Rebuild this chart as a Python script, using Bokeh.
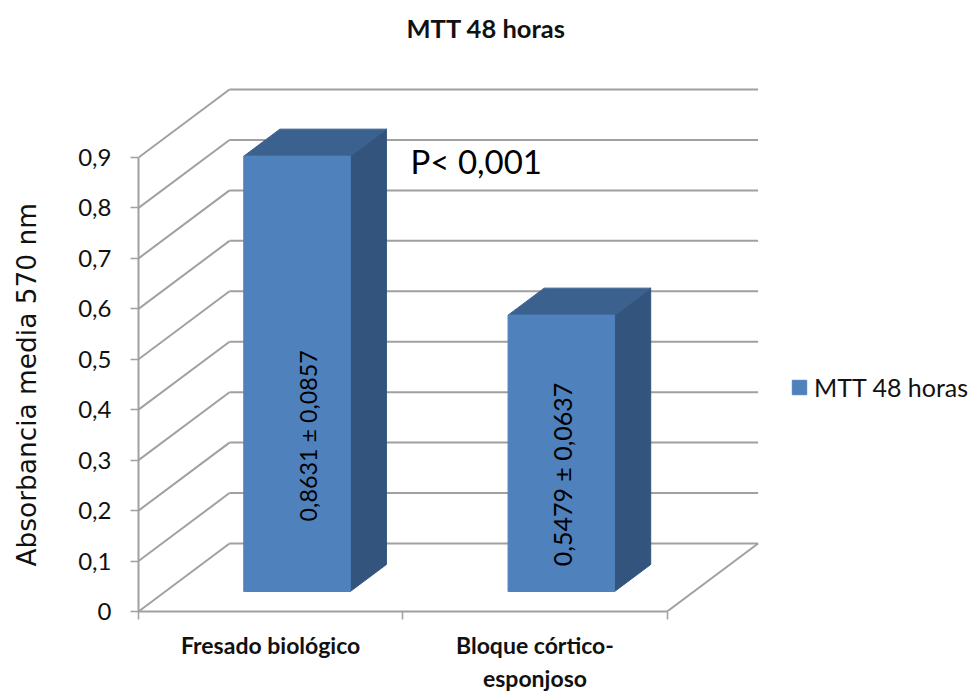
from bokeh.plotting import figure
from bokeh.models import (Range1d, FixedTicker, Legend, LegendItem, Title, Label, LinearAxis)
from bokeh.embed import file_html
from bokeh.resources import INLINE
from bokeh.core.properties import value

categories = ["Fresado biológico", "Bloque córtico-\nesponjoso"]
series_name = "MTT 48 horas"
means = [0.8631, 0.5479]
bar_labels = ["0,8631 ± 0,0857", "0,5479 ± 0,0637"]
y_ticks = [0, 0.1, 0.2, 0.3, 0.4, 0.5, 0.6, 0.7, 0.8, 0.9]
y_tick_labels = ["0", "0,1", "0,2", "0,3", "0,4", "0,5", "0,6", "0,7", "0,8", "0,9"]
annotation = "P< 0,001"
axis_title = "Absorbancia  media 570 nm"

PX_X, PX_Y = 264.3, 504.4
DX, DY = 91 / PX_X, 68 / PX_Y          # depth vector of the 3-D box
W, H = 970, 696
ML, MR, MT, MB = 138, 0, 80, 85
FW, FH = W - ML - MR, H - MT - MB
FONT = "Lato"
GRID = "#a0a0a0"
FRONT, TOP, SIDE = "#4f81bd", "#3b618f", "#32547d"

p = figure(width=W, height=H, output_backend="svg", toolbar_location=None,
           min_border_left=ML, min_border_bottom=MB, min_border_top=MT, min_border_right=MR,
           x_range=Range1d(0, FW / PX_X), y_range=Range1d(0, FH / PX_Y),
           x_axis_type=None, y_axis_type=None, outline_line_color=None,
           background_fill_color="white", border_fill_color="white")
p.grid.visible = False

# walls and floor
n = len(categories)
p.segment([DX] * len(y_ticks), [t + DY for t in y_ticks], [n + DX] * len(y_ticks),
          [t + DY for t in y_ticks], line_color=GRID, line_width=2)
p.segment([0] * len(y_ticks), y_ticks, [DX] * len(y_ticks), [t + DY for t in y_ticks],
          line_color=GRID, line_width=2)
p.segment([n], [0], [n + DX], [DY], line_color=GRID, line_width=2)

# axes
yax = LinearAxis(ticker=FixedTicker(ticks=y_ticks), bounds=(0, 0.9),
                 major_label_overrides={t: l for t, l in zip(y_ticks, y_tick_labels)},
                 major_label_text_font=FONT, major_label_text_font_size="24px",
                 major_label_text_color="#111111",
                 major_label_standoff=19, axis_line_color=GRID, axis_line_width=2,
                 major_tick_line_color=GRID, major_tick_out=8, major_tick_in=0,
                 major_tick_line_width=1.5, minor_tick_out=0, minor_tick_in=0)
p.add_layout(yax, "left")
xax = LinearAxis(ticker=FixedTicker(ticks=[i + 0.5 for i in range(n)], minor_ticks=list(range(n + 1))),
                 bounds=(0, n),
                 major_label_overrides={i + 0.5: c for i, c in enumerate(categories)},
                 major_label_text_font=FONT, major_label_text_font_style="bold",
                 major_label_text_font_size="23px", major_label_standoff=11,
                 major_label_text_color="#111111",
                 axis_line_color=GRID, axis_line_width=2,
                 major_tick_out=0, major_tick_in=0, minor_tick_out=8, minor_tick_in=0,
                 minor_tick_line_color=GRID, minor_tick_line_width=1.5)
p.add_layout(xax, "below")

# 3-D bars
GAP, WIDTH, FLOOR = 0.297, 0.403, 20 / 68
D = 27 / 68
LABEL_DX = [0.04, 0.003]
LABEL_DY = [0.139, 0.05]
LABEL_SIZE = ["23.3px", "25px"]
front = None
for i, v in enumerate(means):
    x0 = i + GAP + FLOOR * DX
    x1 = x0 + WIDTH
    y0 = FLOOR * DY
    y1 = y0 + v
    ox, oy = D * DX, D * DY
    p.patch([x1, x1 + ox, x1 + ox, x1], [y0, y0 + oy, y1 + oy, y1], fill_color=SIDE, line_color=SIDE)
    p.patch([x0, x0 + ox, x1 + ox, x1], [y1, y1 + oy, y1 + oy, y1], fill_color=TOP, line_color=TOP)
    r = p.quad(left=[x0], right=[x1], bottom=[y0], top=[y1], fill_color=FRONT, line_color=FRONT)
    front = front or r
    p.text(x=[x0 + WIDTH / 2 + LABEL_DX[i]], y=[y0 + LABEL_DY[i]],
           text=[bar_labels[i]], angle=1.5708, text_font=value(FONT), text_font_size=LABEL_SIZE[i],
           text_color="black", text_align="left", text_baseline="middle")

p.add_layout(Label(x=272, y=451, x_units="screen", y_units="screen", text=annotation,
                   text_font=FONT, text_font_size="33px", text_color="black",
                   text_baseline="middle"))

legend = Legend(items=[LegendItem(label=series_name, renderers=[front])],
                location=(652, 209), border_line_color=None, background_fill_alpha=0,
                label_text_font=FONT, label_text_font_size="25px", label_text_color="#111111",
                glyph_width=18, glyph_height=18, label_standoff=6, margin=0, padding=0)
p.add_layout(legend)

# empty titles only reserve room between the frame and the real titles
p.add_layout(Title(text=" ", text_font_size="1px", standoff=35), "above")
t = Title(text=series_name, text_font=FONT, text_font_style="bold", text_font_size="25.5px",
          text_color="#111111", align="left", offset=268, standoff=0)
p.add_layout(t, "above")

p.add_layout(Title(text=" ", text_font_size="1px", standoff=31), "left")
t2 = Title(text=axis_title, text_font="DejaVu Sans", text_font_style="normal", text_font_size="26.4px",
           text_color="#111111", align="left", offset=45, standoff=0)
p.add_layout(t2, "left")

open("out.html", "w").write(file_html(p, INLINE))
